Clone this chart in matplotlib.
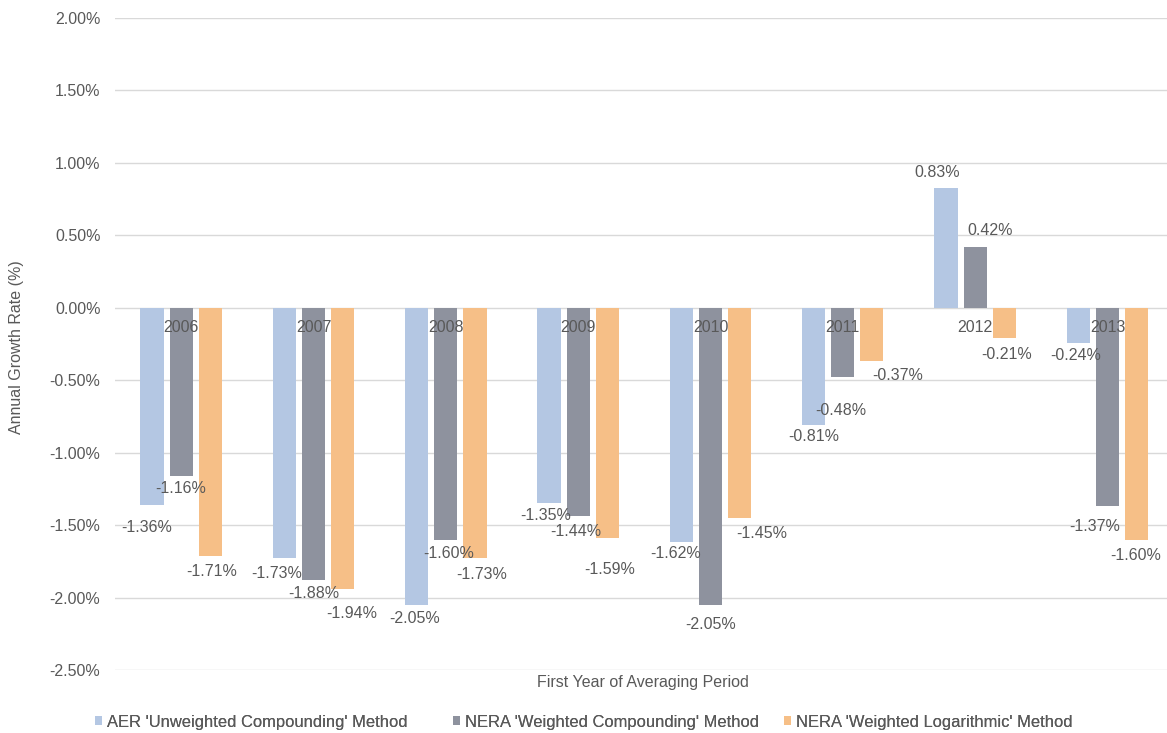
import matplotlib
matplotlib.use("Agg")
import matplotlib.pyplot as plt
import numpy as np
from matplotlib.patches import Patch
from matplotlib.ticker import FuncFormatter

years = ["2006", "2007", "2008", "2009", "2010", "2011", "2012", "2013"]
series_names = ["AER 'Unweighted Compounding' Method",
                "NERA 'Weighted Compounding' Method",
                "NERA 'Weighted Logarithmic' Method"]
aer_unweighted = [-1.36, -1.73, -2.05, -1.35, -1.62, -0.81, 0.83, -0.24]
nera_weighted_comp = [-1.16, -1.88, -1.60, -1.44, -2.05, -0.48, 0.42, -1.37]
nera_weighted_log = [-1.71, -1.94, -1.73, -1.59, -1.45, -0.37, -0.21, -1.60]
y_ticks = [2.0, 1.5, 1.0, 0.5, 0.0, -0.5, -1.0, -1.5, -2.0, -2.5]

# label offsets (pixels: dx, dy) relative to bar end, positive dy = away from bar
label_dx = [
    [-5, -8, -2, -3, -6, 0, -9, -3],
    [0, 0, 3, -2, 0, -2, 15, -13],
    [1, 9, 7, 2, 22, 26, 2, -1],
]
label_dy = [
    [23, 15, 14, 12, 11, 11, 15, 13],
    [13, 13, 14, 15, 20, 33, 16, 20],
    [16, 25, 16, 31, 16, 14, 16, 16],
]
legend_x_px = [95, 453, 784]

colors = ["#B4C7E3", "#8E929E", "#F6BF87"]
text_color = "#595959"
font = "Liberation Sans"
fs = 11.5

plt.rcParams["font.family"] = [font, "DejaVu Sans"]

W, H = 1167, 733
fig = plt.figure(figsize=(W / 100, H / 100), dpi=100)
ax = fig.add_axes([115 / W, 1 - 670 / H, 1 - 115 / W, (670 - 18) / H])

data = [aer_unweighted, nera_weighted_comp, nera_weighted_log]
x = np.arange(len(years))
step = 0.22
width = 0.175
for s, (vals, col) in enumerate(zip(data, colors)):
    xs = x + (s - 1) * step
    ax.bar(xs, vals, width=width, color=col, zorder=3, label=series_names[s])
    for i, v in enumerate(vals):
        dx = label_dx[s][i] * 0.72
        dy = label_dy[s][i] * 0.72
        sign = 1 if v >= 0 else -1
        ax.annotate(f"{v:.2f}%", (xs[i], v), xytext=(dx, sign * dy),
                    textcoords="offset points", ha="center", va="center",
                    fontsize=fs, color=text_color, zorder=4)

# category labels at zero line
for i, yr in enumerate(years):
    ax.annotate(yr, (x[i], 0), xytext=(0, -14.5), textcoords="offset points",
                ha="center", va="center", fontsize=fs, color=text_color, zorder=4)

ax.set_ylim(-2.5, 2.0)
ax.set_xlim(-0.5, 7.45)
ax.set_yticks(y_ticks)
ax.yaxis.set_major_formatter(FuncFormatter(lambda v, p: f"{v:.2f}%"))
ax.tick_params(axis="y", length=0, labelsize=fs, labelcolor=text_color, pad=10.5)
ax.set_xticks([])
ax.grid(axis="y", color="#D9D9D9", linewidth=1, zorder=0)
for sp in ax.spines.values():
    sp.set_visible(False)

fig.text(17 / W, 1 - 347 / H, "Annual Growth Rate (%)", rotation=90,
         ha="center", va="center", fontsize=fs, color=text_color)
fig.text(643 / W, 1 - 683 / H, "First Year of Averaging Period",
         ha="center", va="center", fontsize=fs, color=text_color)

for c, n, lx in zip(colors, series_names, legend_x_px):
    leg = fig.legend(handles=[Patch(facecolor=c, label=n)], loc="center left",
                     bbox_to_anchor=(lx / W, 1 - 722 / H), frameon=False, fontsize=11.9,
                     handlelength=0.45, handleheight=0.45, handletextpad=0.3,
                     borderpad=0, borderaxespad=0)
    for t in leg.get_texts():
        t.set_color(text_color)
    fig.add_artist(leg)

fig.savefig("out.png", dpi=100)
